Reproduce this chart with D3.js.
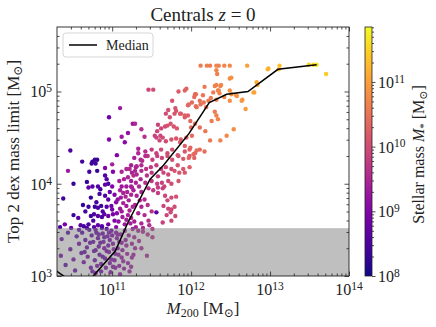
<!DOCTYPE html>
<html>
<head>
<meta charset="utf-8">
<script src="https://cdn.jsdelivr.net/npm/d3@7"></script>
<style>
  body { margin: 0; background: #fff; }
  svg { display: block; font-family: "Liberation Serif", "DejaVu Serif", serif; }
</style>
</head>
<body>
<svg id="chart" width="436" height="327"></svg>
<script>
// halos: [log10 M200, log10 top-2-dex mass limit, log10 M*]
const halos = [
  // massive end, coral / orange
  [12.12,5.28,10.6],[12.20,5.28,10.65],[12.24,5.28,10.6],[12.32,5.28,10.7],[12.35,5.28,10.65],[12.42,5.28,10.7],[12.49,5.28,10.75],
  [12.71,5.28,11.0],[12.98,5.25,11.2],[13.12,5.28,11.3],[13.49,5.29,11.5],[13.55,5.29,11.6],[13.59,5.29,11.65],[13.71,5.19,11.45],
  [12.32,5.23,10.7],[12.33,5.19,10.65],[12.51,5.15,10.85],[12.32,5.07,10.7],[12.38,5.07,10.75],[12.17,5.05,10.55],[11.94,5.03,10.3],
  [12.34,5.01,10.65],[12.36,4.98,10.7],[12.06,4.97,10.45],[12.15,4.96,10.5],[12.04,4.94,10.4],
  [12.25,4.93,10.6],[12.32,4.91,10.65],[12.42,4.94,10.7],[12.51,4.97,10.85],[12.57,4.96,10.85],[12.65,4.91,10.9],[12.80,4.99,11.05],[12.84,5.07,11.1],
  [11.96,4.85,10.3],[12.01,4.88,10.35],[12.06,4.84,10.45],[12.12,4.86,10.45],[12.19,4.83,10.55],[11.46,5.02,9.9],[11.52,5.02,10.0],
  [12.69,4.81,10.95],[12.54,4.59,10.8],[12.45,4.52,10.75],[12.37,4.47,10.7],[12.24,4.47,10.55],[12.79,4.99,11.05],[12.64,4.90,10.9],
  [12.58,4.95,10.85],[12.83,5.10,11.1],[12.49,5.14,10.8],[12.97,5.24,11.2],[13.11,5.24,11.25],
  [12.18,4.57,10.55],[12.11,4.61,10.45],[12.05,4.65,10.45],[11.99,4.39,10.35],[12.03,4.32,10.4],[11.97,4.28,10.35],[12.07,4.36,10.45],
  [12.26,4.68,10.6],[12.32,4.74,10.65],[12.30,4.78,10.6],[12.34,4.70,10.7],
  [11.84,5.00,10.2],[11.92,5.01,10.3],[11.76,4.90,10.1],[11.71,4.80,10.05],[11.80,4.82,10.1],[11.97,4.86,10.35],[12.05,4.97,10.4],
  [12.11,4.90,10.45],[12.16,4.88,10.5],[12.22,4.90,10.55],[12.07,4.83,10.4],[12.30,5.06,10.65],[12.37,5.06,10.7],[12.35,5.01,10.7],
  [12.28,4.99,10.6],[12.49,5.01,10.8],[12.49,4.90,10.8],
  // intermediate, pink-red
  [11.26,4.65,9.3],[11.37,4.59,9.6],[11.41,4.51,9.6],
  [11.68,4.76,10.0],[11.73,4.72,10.05],[11.79,4.76,10.1],[11.81,4.79,10.1],[11.87,4.76,10.15],[11.92,4.72,10.2],[11.96,4.74,10.25],
  [11.86,4.76,10.2],[11.92,4.74,10.25],[11.99,4.68,10.35],[11.86,4.45,10.2],[11.92,4.41,10.25],[12.01,4.52,10.4],[12.00,4.61,10.35],
  [11.54,4.52,9.85],[11.57,4.57,9.9],[11.61,4.52,9.9],
  [11.58,4.64,9.9],[11.62,4.60,9.95],[11.67,4.62,10.0],[11.70,4.63,10.05],[11.74,4.65,10.1],[11.78,4.62,10.1],[11.82,4.60,10.15],
  [11.56,4.50,9.9],[11.60,4.47,9.95],[11.64,4.50,10.0],[11.68,4.46,10.0],[11.75,4.48,10.1],[11.81,4.49,10.1],[11.87,4.48,10.2],[11.94,4.50,10.25],
  [11.33,4.33,9.5],[11.42,4.35,9.6],[11.50,4.37,9.8],[11.56,4.33,9.85],[11.62,4.37,9.95],[11.70,4.33,10.0],[11.76,4.37,10.05],
  [11.83,4.31,10.1],[11.92,4.35,10.15],[11.98,4.37,10.25],[12.05,4.33,10.35],[12.11,4.37,10.4],[12.17,4.35,10.45],
  [11.28,4.28,9.4],[11.36,4.26,9.5],[11.45,4.30,9.7],[11.51,4.26,9.8],[11.57,4.30,9.85],[11.63,4.28,9.9],[11.70,4.30,10.0],
  [11.76,4.26,10.05],[11.84,4.30,10.1],[11.90,4.27,10.15],[11.98,4.30,10.25],[12.04,4.28,10.3],
  [11.24,4.20,9.4],[11.30,4.18,9.45],[11.37,4.20,9.55],[11.43,4.16,9.65],[11.49,4.18,9.75],[11.56,4.20,9.8],[11.62,4.16,9.85],
  [11.68,4.18,9.95],[11.75,4.16,10.0],[11.83,4.20,10.1],[11.90,4.16,10.15],[11.98,4.18,10.25],
  [11.25,4.12,9.4],[11.31,4.10,9.5],[11.37,4.14,9.55],[11.44,4.09,9.65],[11.50,4.12,9.7],[11.58,4.08,9.8],[11.65,4.12,9.9],
  [11.71,4.10,9.95],[11.79,4.14,10.05],[11.85,4.12,10.1],[11.92,4.12,10.15],
  [11.24,4.03,9.35],[11.30,4.01,9.45],[11.36,4.05,9.5],[11.42,4.01,9.6],[11.50,4.03,9.7],[11.57,4.00,9.8],[11.63,4.01,9.85],
  [11.71,4.03,9.95],[11.75,4.00,10.0],[11.84,4.03,10.1],
  [11.25,3.96,9.4],[11.34,3.97,9.5],[11.46,3.95,9.65],[11.58,3.96,9.8],[11.66,3.97,9.9],
  [11.33,4.38,9.5],[11.38,4.25,9.55],[11.42,4.30,9.6],[11.31,4.19,9.5],
  [11.27,3.93,9.4],[11.31,3.87,9.45],[11.37,3.91,9.5],[11.35,3.82,9.5],[11.41,3.83,9.55],[11.29,3.77,9.4],[11.37,3.75,9.5],
  [11.45,3.77,9.6],[11.33,3.68,9.45],[11.41,3.66,9.55],[11.50,3.70,9.65],[11.28,3.59,9.4],[11.37,3.57,9.5],[11.46,3.60,9.6],
  [11.30,3.53,9.4],[11.39,3.52,9.5],[11.47,3.55,9.6],
  [11.52,3.93,9.75],[11.58,3.90,9.8],[11.64,3.95,9.85],[11.67,3.87,9.9],[11.70,3.82,9.95],[11.75,3.85,10.0],[11.81,3.86,10.05],
  [11.65,3.76,9.9],[11.71,3.73,9.9],[11.75,3.72,9.95],[11.79,3.75,10.0],[11.56,3.69,8.6],[11.69,3.66,9.9],[11.80,3.65,10.0],
  [11.74,3.69,9.95],[11.64,3.58,9.85],[11.75,3.60,9.95],
  // low mass, purple / indigo
  [11.10,4.82,9.3],[10.96,4.72,8.8],[11.20,4.55,9.2],[11.12,4.51,9.3],[11.16,4.45,9.1],[10.96,4.48,9.0],[10.47,4.36,8.5],
  [11.06,4.31,9.0],[11.29,4.65,9.5],[10.62,4.24,8.4],
  [10.75,4.24,8.3],[10.78,4.26,8.35],[10.81,4.26,8.3],[10.79,4.22,8.4],[10.74,4.22,8.35],
  [11.00,4.21,9.4],[10.44,4.14,9.3],[10.71,4.13,8.4],[10.81,4.14,8.3],[10.91,4.17,9.0],
  [10.91,4.09,8.5],[10.93,4.05,8.6],[10.95,4.00,8.5],[10.91,3.99,8.6],[11.01,4.13,9.0],
  [11.12,4.13,9.5],[11.18,4.16,9.5],[11.22,4.16,9.55],[11.29,4.14,9.5],
  [11.09,4.03,9.4],[11.15,4.05,9.45],[11.20,4.07,9.5],[11.27,4.09,9.55],
  [10.51,4.00,8.3],[10.68,4.02,8.3],[10.75,3.97,8.6],[10.82,3.97,8.5],[11.00,3.97,9.0],[11.12,3.97,9.3],[11.18,3.97,9.35],[11.24,3.97,9.4],
  [10.70,3.96,8.7],[10.38,3.84,8.4],[10.73,3.85,8.3],[10.84,3.89,8.4],[10.91,3.87,8.5],[10.95,3.83,8.6],
  [10.63,3.77,8.3],[10.70,3.75,8.4],[10.78,3.75,8.3],[10.82,3.74,8.5],[10.86,3.76,8.4],[10.93,3.75,8.6],[10.99,3.76,8.8],
  [10.51,3.66,8.3],[10.57,3.63,8.6],[10.73,3.65,8.4],[10.77,3.67,8.5],[10.82,3.65,8.6],[10.87,3.64,8.5],[10.90,3.67,8.7],
  [10.95,3.65,8.8],[11.01,3.67,8.9],
  [10.40,3.56,8.9],[10.34,3.53,8.5],[10.60,3.55,8.6],[10.64,3.54,8.4],[10.70,3.56,8.5],[10.77,3.53,8.6],[10.82,3.55,8.7],
  [10.87,3.54,8.6],[10.95,3.56,8.8],
  [11.10,3.93,9.4],[11.14,3.90,9.45],[11.17,3.86,9.5],[11.21,3.82,9.45],[11.24,3.88,9.5],[11.14,3.79,9.4],[11.18,3.76,9.35],
  [11.22,3.71,9.45],[11.10,3.73,9.3],[11.13,3.64,9.35],[11.18,3.61,9.4],[11.24,3.63,9.45],[11.08,3.59,9.2],[11.16,3.56,9.3],
  [11.03,3.88,9.0],[11.05,3.80,9.1],[11.00,3.72,8.9],[11.06,3.68,9.1],[11.03,3.60,9.0],
  [11.07,3.83,9.2],[11.12,3.70,9.3],[11.20,3.66,9.4],[11.26,3.75,9.5],[11.19,3.91,9.45],[11.23,3.57,9.4],[11.05,3.53,9.1],
  [11.11,3.85,9.3],[10.80,3.80,8.4],[10.88,3.70,8.5],[10.76,3.60,8.5],[10.66,3.70,8.4],[10.85,3.94,8.4],[10.97,3.91,8.7],
  // under the shaded band
  [10.36,3.40,8.7],[10.35,3.22,8.8],[10.41,3.12,8.6],[10.44,3.47,8.5],[10.47,3.29,8.7],[10.51,3.18,8.9],[10.53,3.06,8.7],
  [10.55,3.43,8.6],[10.58,3.35,8.8],[10.61,3.25,8.7],[10.62,3.47,8.5],[10.64,3.15,8.8],[10.66,3.39,8.6],[10.68,3.31,8.7],
  [10.69,3.21,8.9],[10.71,3.50,8.5],[10.73,3.09,8.8],[10.74,3.44,8.6],[10.76,3.37,8.7],[10.77,3.27,8.6],[10.78,3.17,8.8],
  [10.79,3.03,8.9],[10.80,3.47,8.6],[10.82,3.41,8.7],[10.83,3.32,8.8],[10.84,3.23,8.7],[10.86,3.13,8.9],[10.86,3.05,8.8],
  [10.88,3.46,8.7],[10.89,3.37,8.8],[10.90,3.30,8.9],[10.91,3.19,8.8],[10.92,3.09,9.0],[10.94,3.43,8.8],[10.95,3.33,8.9],
  [10.96,3.26,9.0],[10.97,3.14,8.9],[10.98,3.04,9.0],[10.99,3.49,8.8],[11.00,3.44,8.9],[11.01,3.35,9.0],[11.02,3.29,9.1],
  [11.03,3.17,9.0],[11.04,3.09,9.1],[11.05,3.47,9.0],[11.06,3.41,9.1],[11.07,3.30,9.0],[11.08,3.23,9.2],[11.09,3.11,9.1],
  [11.10,3.02,9.2],[11.11,3.45,9.2],[11.12,3.36,9.1],[11.13,3.28,9.2],[11.14,3.16,9.3],[11.15,3.08,9.2],[11.16,3.49,9.3],
  [11.17,3.39,9.2],[11.18,3.33,9.3],[11.19,3.24,9.3],[11.20,3.14,9.2],[11.21,3.44,9.3],[11.22,3.05,9.3],[10.93,3.51,8.6],
  [10.87,3.52,8.5],[10.79,3.50,8.7],[10.68,3.52,8.5],[10.58,3.50,8.6],[10.48,3.52,8.8],
  [10.83,3.45,8.8],[10.97,3.39,8.9],[11.04,3.24,9.0],[10.88,3.21,8.7],[10.93,3.27,8.9],[11.09,3.37,9.1],[10.72,3.36,8.7],
  [10.81,3.11,8.8],[11.01,3.10,9.0],[10.65,3.26,8.6],[10.75,3.05,8.8],[11.12,3.20,9.2],[10.99,3.18,9.0],[10.90,3.42,8.8],
  [10.85,3.36,8.7],[11.07,3.45,9.1],[10.96,3.47,8.9],[10.79,3.28,8.7],
  [11.26,3.51,9.4],[11.33,3.49,9.45],[11.39,3.48,9.5],[11.45,3.45,9.55],[11.51,3.51,9.65],[11.51,3.42,9.6],
  [11.28,3.42,9.4],[11.34,3.38,9.45],[11.25,3.35,9.3],[11.29,3.30,9.35],[11.37,3.30,9.45],[11.27,3.23,9.3],[11.44,3.22,9.5],
  [11.25,3.20,9.35],[11.24,3.10,9.3]
];

// running median
const medianM200 = [10.22, 10.30, 10.47, 10.62, 10.76, 11.04, 11.20, 11.48, 11.65, 11.97, 12.23, 12.45, 12.72, 13.10, 13.59];
const medianLimit = [3.09, 3.05, 2.95, 2.86, 3.00, 3.27, 3.58, 4.05, 4.20, 4.54, 4.88, 4.97, 5.00, 5.24, 5.29];

const bandLimit = 3300;
const xTicks = [1e11, 1e12, 1e13, 1e14];
const yTicks = [1e3, 1e4, 1e5];
const cTicks = [1e8, 1e9, 1e10, 1e11];

const margin = { left: 57, top: 27, right: 87, bottom: 51 };
const W = 436, H = 327;
const width = W - margin.left - margin.right;
const height = H - margin.top - margin.bottom;

const svg = d3.select('#chart');

const x = d3.scaleLog().domain([2e10, 1e14]).range([0, width]);
const y = d3.scaleLog().domain([1e3, 5e5]).range([height, 0]);
const cScale = d3.scaleLog().domain([1e8, Math.pow(10, 11.85)]).range([0, 1]);
const colour = (m) => d3.interpolatePlasma(cScale(m));

function minorTicks(lo, hi) {
  const out = [];
  for (let e = Math.floor(Math.log10(lo)); e <= Math.ceil(Math.log10(hi)); e++) {
    for (let k = 2; k <= 9; k++) {
      const v = k * Math.pow(10, e);
      if (v > lo && v < hi) out.push(v);
    }
  }
  return out;
}

function powerLabel(text, v) {
  const e = Math.round(Math.log10(v));
  text.text(null);
  text.append('tspan').text('10');
  text.append('tspan').attr('dy', '-0.45em').attr('font-size', '0.72em').text(e);
}

const g = svg.append('g').attr('transform', `translate(${margin.left},${margin.top})`);

svg.append('defs').append('clipPath').attr('id', 'plot-clip')
  .append('rect').attr('width', width).attr('height', height);

const plot = g.append('g').attr('clip-path', 'url(#plot-clip)');

plot.append('g')
  .selectAll('circle')
  .data(halos)
  .join('circle')
  .attr('cx', (d) => x(Math.pow(10, d[0])))
  .attr('cy', (d) => y(Math.pow(10, d[1])))
  .attr('r', 2.2)
  .attr('fill', (d) => colour(Math.pow(10, d[2])));

plot.append('rect')
  .attr('x', 0)
  .attr('y', y(bandLimit))
  .attr('width', width)
  .attr('height', height - y(bandLimit))
  .attr('fill', '#808080')
  .attr('fill-opacity', 0.5);

const line = d3.line()
  .x((d, i) => x(Math.pow(10, medianM200[i])))
  .y((d) => y(Math.pow(10, d)));

plot.append('path')
  .datum(medianLimit)
  .attr('d', line)
  .attr('fill', 'none')
  .attr('stroke', '#000')
  .attr('stroke-width', 1.5);

// axes, ticks pointing inwards on all four sides
function styleAxis(sel) {
  sel.select('.domain').remove();
  sel.selectAll('line').attr('stroke', '#222').attr('stroke-width', 0.8);
}

const xMin = minorTicks(2e10, 1e14);
const yMin = minorTicks(1e3, 5e5);

g.append('g').attr('transform', `translate(0,${height})`)
  .call(d3.axisBottom(x).tickValues(xTicks).tickSizeInner(-4.5).tickFormat(''))
  .call(styleAxis);
g.append('g').attr('transform', `translate(0,${height})`)
  .call(d3.axisBottom(x).tickValues(xMin).tickSizeInner(-2.5).tickFormat(''))
  .call(styleAxis);
g.append('g')
  .call(d3.axisTop(x).tickValues(xTicks).tickSizeInner(-4.5).tickFormat(''))
  .call(styleAxis);
g.append('g')
  .call(d3.axisTop(x).tickValues(xMin).tickSizeInner(-2.5).tickFormat(''))
  .call(styleAxis);
g.append('g')
  .call(d3.axisLeft(y).tickValues(yTicks).tickSizeInner(-4.5).tickFormat(''))
  .call(styleAxis);
g.append('g')
  .call(d3.axisLeft(y).tickValues(yMin).tickSizeInner(-2.5).tickFormat(''))
  .call(styleAxis);
g.append('g').attr('transform', `translate(${width},0)`)
  .call(d3.axisRight(y).tickValues(yTicks).tickSizeInner(-4.5).tickFormat(''))
  .call(styleAxis);
g.append('g').attr('transform', `translate(${width},0)`)
  .call(d3.axisRight(y).tickValues(yMin).tickSizeInner(-2.5).tickFormat(''))
  .call(styleAxis);

g.append('rect')
  .attr('width', width).attr('height', height)
  .attr('fill', 'none').attr('stroke', '#222').attr('stroke-width', 0.9);

g.append('g').selectAll('text')
  .data(xTicks)
  .join('text')
  .attr('x', (d) => x(d))
  .attr('y', height + 19)
  .attr('text-anchor', 'middle')
  .attr('font-size', 16)
  .attr('fill', '#222')
  .each(function (d) { powerLabel(d3.select(this), d); });

g.append('g').selectAll('text')
  .data(yTicks)
  .join('text')
  .attr('x', -5)
  .attr('y', (d) => y(d) + 6)
  .attr('text-anchor', 'end')
  .attr('font-size', 16)
  .attr('fill', '#222')
  .each(function (d) { powerLabel(d3.select(this), d); });

// title and axis labels
svg.append('text')
  .attr('x', margin.left + width / 2).attr('y', 21)
  .attr('text-anchor', 'middle').attr('font-size', 19).attr('fill', '#222')
  .call((t) => {
    t.append('tspan').text('Centrals ');
    t.append('tspan').attr('font-style', 'italic').text('z');
    t.append('tspan').text(' = 0');
  });

svg.append('text')
  .attr('x', margin.left + width / 2).attr('y', 314)
  .attr('text-anchor', 'middle').attr('font-size', 17).attr('fill', '#222')
  .call((t) => {
    t.append('tspan').attr('font-style', 'italic').text('M');
    t.append('tspan').attr('font-size', 12).attr('dy', 3).text('200');
    t.append('tspan').attr('dy', -3).text(' [M');
    t.append('tspan').attr('font-size', 12).attr('dy', 3).text('⊙');
    t.append('tspan').attr('dy', -3).text(']');
  });

svg.append('text')
  .attr('transform', `translate(19,${margin.top + height / 2}) rotate(-90)`)
  .attr('text-anchor', 'middle').attr('font-size', 17).attr('fill', '#222')
  .call((t) => {
    t.append('tspan').text('Top 2 dex mass limit [M');
    t.append('tspan').attr('font-size', 12).attr('dy', 3).text('⊙');
    t.append('tspan').attr('dy', -3).text(']');
  });

// legend
const legend = g.append('g').attr('transform', 'translate(6,6)');
legend.append('rect')
  .attr('width', 90).attr('height', 24).attr('rx', 3)
  .attr('fill', '#fff').attr('fill-opacity', 0.8)
  .attr('stroke', '#ccc').attr('stroke-width', 0.8);
legend.append('line')
  .attr('x1', 6).attr('x2', 34).attr('y1', 12).attr('y2', 12)
  .attr('stroke', '#000').attr('stroke-width', 1.5);
legend.append('text')
  .attr('x', 43).attr('y', 17).attr('font-size', 14).attr('fill', '#222')
  .text('Median');

// colour bar
const cbX = 365, cbW = 7;
const cbY = d3.scaleLog().domain(cScale.domain()).range([margin.top + height, margin.top]);
const grad = svg.select('defs').append('linearGradient')
  .attr('id', 'plasma').attr('x1', 0).attr('y1', 1).attr('x2', 0).attr('y2', 0);
d3.range(0, 1.0001, 0.05).forEach((t) => {
  grad.append('stop').attr('offset', t).attr('stop-color', d3.interpolatePlasma(t));
});
svg.append('rect')
  .attr('x', cbX).attr('y', margin.top).attr('width', cbW).attr('height', height)
  .attr('fill', 'url(#plasma)');

const cbAxis = svg.append('g').attr('transform', `translate(${cbX + cbW},0)`);
cbAxis.append('g')
  .call(d3.axisRight(cbY).tickValues(cTicks).tickSizeInner(3.5).tickFormat(''))
  .call(styleAxis);
cbAxis.append('g')
  .call(d3.axisRight(cbY).tickValues(minorTicks(1e8, Math.pow(10, 11.85))).tickSizeInner(2).tickFormat(''))
  .call(styleAxis);
svg.append('rect')
  .attr('x', cbX).attr('y', margin.top).attr('width', cbW).attr('height', height)
  .attr('fill', 'none').attr('stroke', '#222').attr('stroke-width', 0.8);

svg.append('g').selectAll('text')
  .data(cTicks)
  .join('text')
  .attr('x', cbX + cbW + 6)
  .attr('y', (d) => cbY(d) + 6)
  .attr('font-size', 16)
  .attr('fill', '#222')
  .each(function (d) { powerLabel(d3.select(this), d); });

svg.append('text')
  .attr('transform', `translate(424,${margin.top + height / 2 + 3}) rotate(-90)`)
  .attr('text-anchor', 'middle').attr('font-size', 16).attr('fill', '#222')
  .call((t) => {
    t.append('tspan').text('Stellar mass ');
    t.append('tspan').attr('font-style', 'italic').text('M');
    t.append('tspan').attr('font-size', 11).attr('dy', 3).text('*');
    t.append('tspan').attr('dy', -3).text(' [M');
    t.append('tspan').attr('font-size', 11).attr('dy', 3).text('⊙');
    t.append('tspan').attr('dy', -3).text(']');
  });
</script>
</body>
</html>
